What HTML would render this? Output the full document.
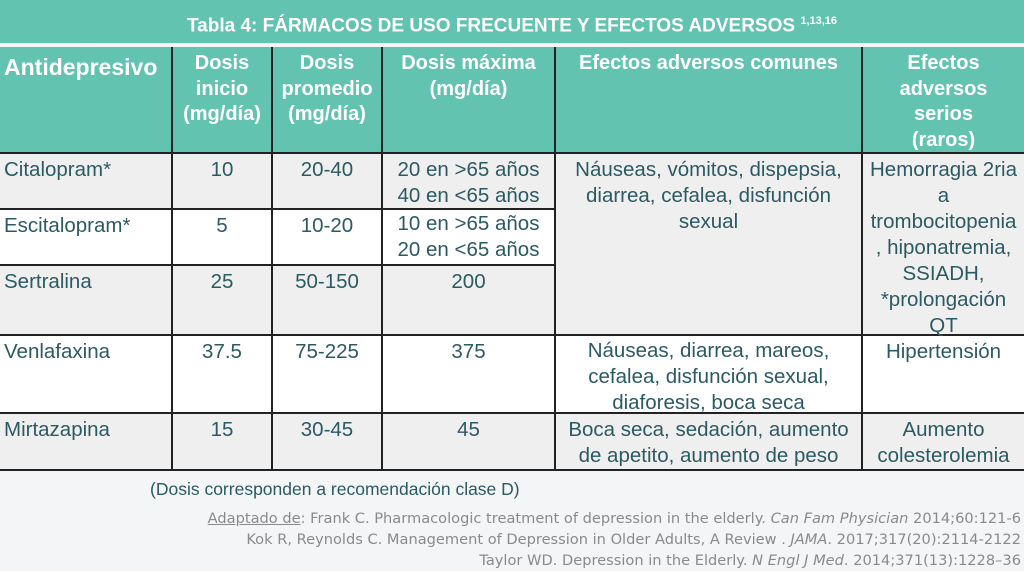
<!DOCTYPE html>
<html><head><meta charset="utf-8"><style>
body{margin:0;width:1024px;height:571px;background:#f4f5f6;font-family:"Liberation Sans",sans-serif;position:relative;overflow:hidden}
.t{position:absolute;left:0;top:0;width:1024px;height:43px;background:#63c3b1;color:#fff;font-weight:bold;font-size:19px;text-align:center;line-height:43px}
.t sup{font-size:11px}
.c{position:absolute;box-sizing:border-box;border-right:2px solid #222;border-bottom:2px solid #222;color:#2b5a63;font-size:20.5px;line-height:26px;text-align:center;padding-top:3px;white-space:nowrap}
.h{background:#63c3b1;color:#fff;font-weight:bold;font-size:20px;line-height:25.5px;padding-top:4px}
.g{background:#efefef}.w{background:#fff}
.l{text-align:left;padding-left:4px}
.n{position:absolute;color:#2b5a63;font-size:17.5px}
.r{position:absolute;right:3px;color:#8a8a8a;font-family:"DejaVu Sans",sans-serif;font-size:14.6px;text-align:right;line-height:21px;white-space:nowrap}
</style></head><body>
<div class="t">Tabla 4: FÁRMACOS DE USO FRECUENTE Y EFECTOS ADVERSOS <sup>1,13,16</sup></div>
<div style="position:absolute;left:0;top:47px;width:1024px;height:106px;background:#63c3b1"></div>
<div class="c h l" style="left:0;top:47px;width:173px;height:107px;font-size:23px;padding-top:8px">Antidepresivo</div>
<div class="c h" style="left:173px;top:47px;width:100px;height:107px">Dosis<br>inicio<br>(mg/día)</div>
<div class="c h" style="left:273px;top:47px;width:110px;height:107px">Dosis<br>promedio<br>(mg/día)</div>
<div class="c h" style="left:383px;top:47px;width:173px;height:107px">Dosis máxima<br>(mg/día)</div>
<div class="c h" style="left:556px;top:47px;width:307px;height:107px">Efectos adversos comunes</div>
<div class="c h" style="left:863px;top:47px;width:161px;height:107px;border-right:0">Efectos<br>adversos<br>serios<br>(raros)</div>

<div class="c g l" style="left:0;top:154px;width:173px;height:56px">Citalopram*</div>
<div class="c g" style="left:173px;top:154px;width:100px;height:56px">10</div>
<div class="c g" style="left:273px;top:154px;width:110px;height:56px">20-40</div>
<div class="c g" style="left:383px;top:154px;width:173px;height:56px;padding-top:3px">20 en &gt;65 años<br>40 en &lt;65 años</div>
<div class="c w l" style="left:0;top:210px;width:173px;height:56px">Escitalopram*</div>
<div class="c w" style="left:173px;top:210px;width:100px;height:56px">5</div>
<div class="c w" style="left:273px;top:210px;width:110px;height:56px">10-20</div>
<div class="c w" style="left:383px;top:210px;width:173px;height:56px;padding-top:1px">10 en &gt;65 años<br>20 en &lt;65 años</div>
<div class="c g l" style="left:0;top:266px;width:173px;height:70px">Sertralina</div>
<div class="c g" style="left:173px;top:266px;width:100px;height:70px">25</div>
<div class="c g" style="left:273px;top:266px;width:110px;height:70px">50-150</div>
<div class="c g" style="left:383px;top:266px;width:173px;height:70px">200</div>
<div class="c g" style="left:556px;top:154px;width:307px;height:182px;padding-top:3px">Náuseas, vómitos, dispepsia,<br>diarrea, cefalea, disfunción<br>sexual</div>
<div class="c g" style="left:863px;top:154px;width:161px;height:182px;border-right:0;padding-top:3px">Hemorragia 2ria<br>a<br>trombocitopenia<br>, hiponatremia,<br>SSIADH,<br>*prolongación<br>QT</div>

<div class="c w l" style="left:0;top:336px;width:173px;height:78px">Venlafaxina</div>
<div class="c w" style="left:173px;top:336px;width:100px;height:78px">37.5</div>
<div class="c w" style="left:273px;top:336px;width:110px;height:78px">75-225</div>
<div class="c w" style="left:383px;top:336px;width:173px;height:78px">375</div>
<div class="c w" style="left:556px;top:336px;width:307px;height:78px;padding-top:2px">Náuseas, diarrea, mareos,<br>cefalea, disfunción sexual,<br>diaforesis, boca seca</div>
<div class="c w" style="left:863px;top:336px;width:161px;height:78px;border-right:0">Hipertensión</div>

<div class="c g l" style="left:0;top:414px;width:173px;height:57px">Mirtazapina</div>
<div class="c g" style="left:173px;top:414px;width:100px;height:57px">15</div>
<div class="c g" style="left:273px;top:414px;width:110px;height:57px">30-45</div>
<div class="c g" style="left:383px;top:414px;width:173px;height:57px">45</div>
<div class="c g" style="left:556px;top:414px;width:307px;height:57px;padding-top:3px">Boca seca, sedación, aumento<br>de apetito, aumento de peso</div>
<div class="c g" style="left:863px;top:414px;width:161px;height:57px;border-right:0;padding-top:3px">Aumento<br>colesterolemia</div>

<div class="n" style="left:150px;top:479px">(Dosis corresponden a recomendación clase D)</div>
<div class="r" style="top:508px"><u>Adaptado de</u>: Frank C. Pharmacologic treatment of depression in the elderly. <i>Can Fam Physician</i> 2014;60:121-6<br>Kok R, Reynolds C. Management of Depression in Older Adults, A Review . <i>JAMA</i>. 2017;317(20):2114-2122<br>Taylor WD. Depression in the Elderly. <i>N Engl J Med</i>. 2014;371(13):1228–36</div>
</body></html>
